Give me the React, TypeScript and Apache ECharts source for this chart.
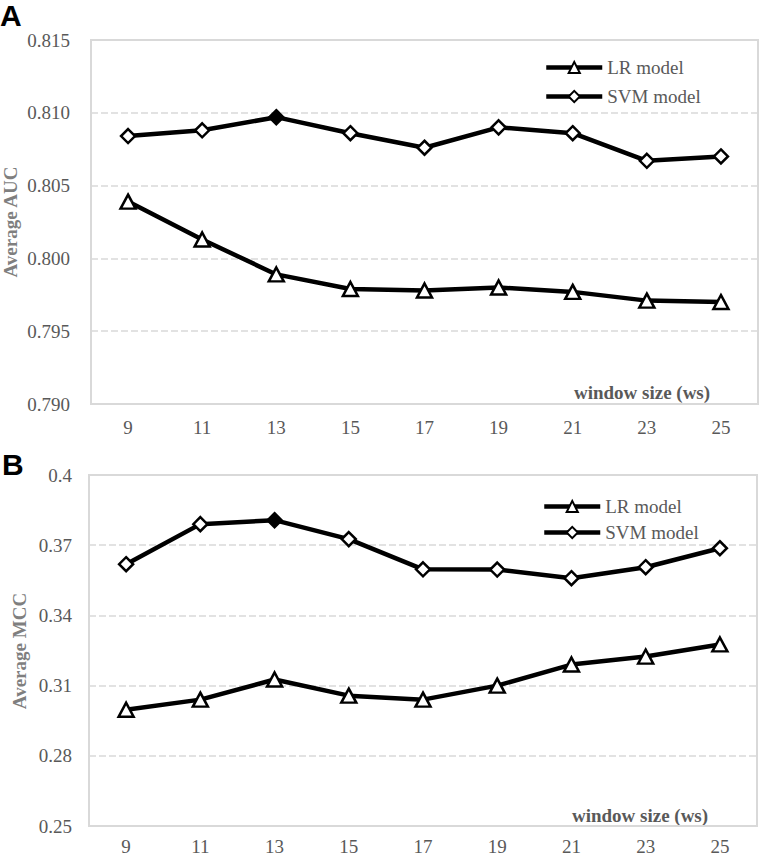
import React, { useEffect, useRef } from 'react';
import * as echarts from 'echarts';

const windowSizes = ['9', '11', '13', '15', '17', '19', '21', '23', '25'];
const aucLR = [0.8039, 0.8013, 0.7989, 0.7979, 0.7978, 0.798, 0.7977, 0.7971, 0.797];
const aucSVM = [0.8084, 0.8088, 0.8097, 0.8086, 0.8076, 0.809, 0.8086, 0.8067, 0.807];
const mccLR = [0.2997, 0.304, 0.3126, 0.3057, 0.304, 0.31, 0.319, 0.3224, 0.3276];
const mccSVM = [0.3619, 0.379, 0.3807, 0.3726, 0.3597, 0.3596, 0.3559, 0.3606, 0.3687];
const aucTicks = [0.79, 0.795, 0.8, 0.805, 0.81, 0.815];
const mccTicks = [0.25, 0.28, 0.31, 0.34, 0.37, 0.4];
const bestIndex = 2;
const seriesNames = ['LR model', 'SVM model'];

const SERIF = 'Liberation Serif';
const TICK_COLOR = '#595959';
const GRID_COLOR = '#d9d9d9';

export default function App() {
  const ref = useRef<HTMLDivElement>(null);
  useEffect(() => {
    document.body.style.margin = '0';
    if (!ref.current) return;
    const chart = echarts.init(ref.current, null, { renderer: 'svg' });

    const lineSeries = (name: string, data: number[], symbol: string, size: any, idx: number, highlight: boolean) => ({
      name,
      type: 'line',
      xAxisIndex: idx,
      yAxisIndex: idx,
      data: data.map((v, i) =>
        highlight && i === bestIndex ? { value: v, itemStyle: { color: '#000' } } : v
      ),
      symbol,
      symbolSize: size,
      showAllSymbol: true,
      lineStyle: { color: '#000', width: 4.5 },
      itemStyle: { color: '#fff', borderColor: '#000', borderWidth: 2.5 },
      z: symbol === 'diamond' ? 3 : 2,
    });

    const yAxis = (idx: number, ticks: number[], min: number, max: number, fmt: (v: number) => string, margin: number) => ({
      type: 'value',
      gridIndex: idx,
      min,
      max,
      axisLine: { show: false },
      axisTick: { show: false, customValues: ticks },
      axisLabel: {
        customValues: ticks,
        formatter: fmt,
        color: TICK_COLOR,
        fontFamily: SERIF,
        fontSize: 19,
        margin,
      },
      splitLine: { show: true, lineStyle: { color: GRID_COLOR, width: 1.5, type: [7, 3] } },
    });

    const xAxis = (idx: number, margin: number) => ({
      type: 'category',
      gridIndex: idx,
      data: windowSizes,
      boundaryGap: true,
      axisLine: { show: true, lineStyle: { color: GRID_COLOR, width: 2 } },
      axisTick: { show: false },
      axisLabel: { color: TICK_COLOR, fontFamily: SERIF, fontSize: 19, margin },
      splitLine: { show: false },
    });

    const legend = (top: number, left: number, gap: number) => ({
      orient: 'vertical',
      left,
      top,
      data: seriesNames,
      itemWidth: 56,
      itemHeight: 14,
      itemGap: gap,
      lineStyle: { width: 4.5, color: '#000' },
      textStyle: { color: TICK_COLOR, fontFamily: SERIF, fontSize: 19 },
    });

    const textEl = (text: string, x: number, y: number, opts: any = {}) => ({
      type: 'text',
      x,
      y,
      rotation: opts.rotation || 0,
      style: {
        text,
        fill: opts.fill || TICK_COLOR,
        font: opts.font || `bold 19px "${SERIF}"`,
        textAlign: opts.align || 'center',
        textVerticalAlign: 'middle',
      },
    });

    chart.setOption({
      animation: false,
      backgroundColor: '#fff',
      grid: [
        { left: 91, top: 40, width: 667, height: 364, show: true, borderColor: GRID_COLOR, borderWidth: 2, containLabel: false },
        { left: 89, top: 475, width: 668, height: 352, show: true, borderColor: GRID_COLOR, borderWidth: 2, containLabel: false },
      ],
      xAxis: [xAxis(0, 14), xAxis(1, 11)],
      yAxis: [
        yAxis(0, aucTicks, 0.79, 0.815, (v: number) => v.toFixed(3), 21),
        yAxis(1, mccTicks, 0.25, 0.4, (v: number) => String(parseFloat(v.toFixed(2))), 17),
      ],
      legend: [legend(53, 539, 10), legend(492, 537, 7)],
      series: [
        lineSeries(seriesNames[0], aucLR, 'triangle', [15, 14], 0, false),
        lineSeries(seriesNames[1], aucSVM, 'diamond', 14, 0, true),
        lineSeries(seriesNames[0], mccLR, 'triangle', [15, 14], 1, false),
        lineSeries(seriesNames[1], mccSVM, 'diamond', 14, 1, true),
      ],
      graphic: [
        textEl('A', 0, 15, { font: 'bold 30px "Liberation Sans"', fill: '#000', align: 'left' }),
        textEl('B', 2, 464, { font: 'bold 30px "Liberation Sans"', fill: '#000', align: 'left' }),
        textEl('Average AUC', 10, 222, { rotation: Math.PI / 2, fill: '#7f7f7f' }),
        textEl('Average MCC', 19, 651, { rotation: Math.PI / 2, fill: '#7f7f7f' }),
        textEl('window size (ws)', 642, 392),
        textEl('window size (ws)', 640, 815),
      ],
    });
    return () => chart.dispose();
  }, []);
  return <div ref={ref} style={{ width: 760, height: 856 }} />;
}
